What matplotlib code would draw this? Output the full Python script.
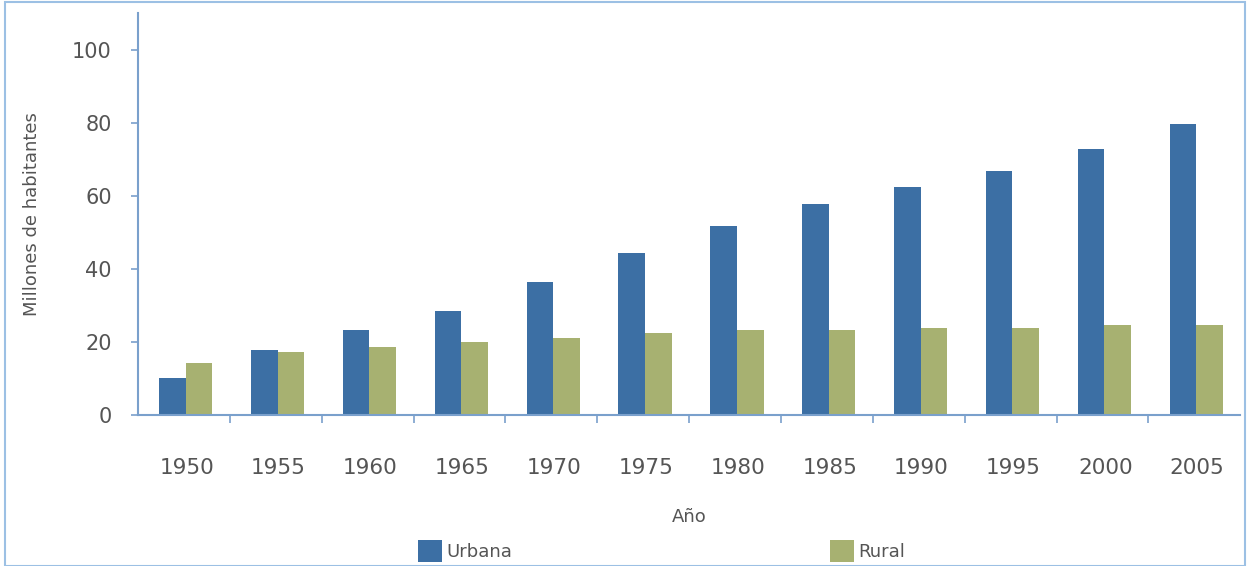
import matplotlib
matplotlib.use("Agg")
import matplotlib.pyplot as plt
import numpy as np
from matplotlib.patches import Rectangle

# data
years = ["1950", "1955", "1960", "1965", "1970", "1975",
         "1980", "1985", "1990", "1995", "2000", "2005"]
urbana = [10.1, 17.7, 23.2, 28.3, 36.5, 44.4, 51.8, 57.6, 62.3, 66.8, 72.7, 79.6]
rural = [14.2, 17.2, 18.5, 19.9, 21.0, 22.3, 23.2, 23.2, 23.7, 23.7, 24.6, 24.6]

urban_color = "#3c6fa4"
rural_color = "#a7b171"
axis_color = "#7aa0cc"
text_color = "#555555"

fig = plt.figure(figsize=(12.49, 5.66), dpi=100)
ax = fig.add_axes([0.1105, 0.267, 0.8825, 0.71])

x = np.arange(len(years))
w = 0.29
ax.bar(x - w / 2 + 0.02, urbana, width=w, color=urban_color, label="Urbana")
ax.bar(x + w / 2 + 0.02, rural, width=w, color=rural_color, label="Rural")

ax.set_xlim(-0.5, len(years) - 0.5)
ax.set_ylim(0, 110)

# spines
for s in ["top", "right"]:
    ax.spines[s].set_visible(False)
for s in ["left", "bottom"]:
    ax.spines[s].set_color(axis_color)
    ax.spines[s].set_linewidth(1.5)

# y ticks
ax.set_yticks(range(0, 101, 20))
ax.tick_params(axis="y", direction="out", length=5, width=1.2, color=axis_color,
               labelsize=15, labelcolor=text_color, pad=14)

# x ticks: labels centered, marks between groups
ax.set_xticks(x + 0.03)
ax.set_xticklabels(years)
ax.set_xticks(np.arange(0.5, len(years) - 1, 1.0), minor=True)
ax.tick_params(axis="x", which="major", length=0, labelsize=15.5,
               labelcolor=text_color, pad=31)
ax.tick_params(axis="x", which="minor", direction="out", length=6, width=1.2,
               color=axis_color)

ax.set_xlabel("Año", fontsize=13, color=text_color, labelpad=22)
ax.set_ylabel("Millones de habitantes", fontsize=13, color=text_color, labelpad=22)

fig.legend(loc="lower left", bbox_to_anchor=(0.322, -0.022), ncol=2, frameon=False,
           fontsize=13, handlelength=1.3, handleheight=1.5, handletextpad=0.25,
           columnspacing=17.6, labelcolor=text_color)

# light blue frame around the whole picture
fig.patches.append(Rectangle((0.004, 0.0), 0.993, 0.997, transform=fig.transFigure,
                             fill=False, edgecolor="#9cc0e4", linewidth=1.5))

fig.savefig("out.png", dpi=100)
